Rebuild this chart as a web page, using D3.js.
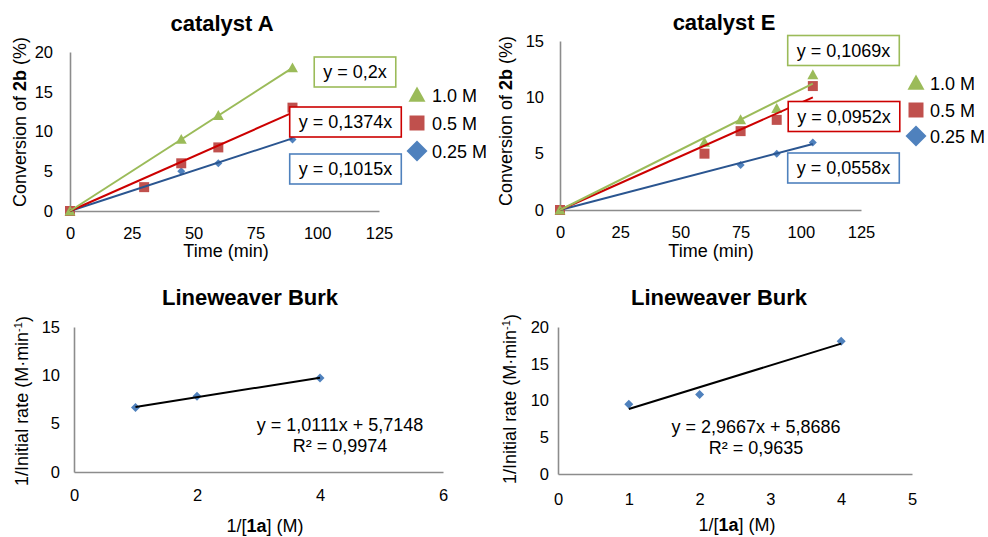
<!DOCTYPE html>
<html>
<head>
<meta charset="utf-8">
<script src="https://cdn.jsdelivr.net/npm/d3@7"></script>
<style>
  html, body { margin: 0; padding: 0; background: #ffffff; }
  svg { display: block; font-family: "Liberation Sans", Arial, Helvetica, sans-serif; }
</style>
</head>
<body>
<svg id="chart" width="988" height="537"></svg>
<script>
// ---- Series labels (legend order) ----
const concLabels = ["1.0 M", "0.5 M", "0.25 M"];

// ---- Catalyst A: time (min) vs conversion of 2b (%) ----
const timeA_10  = [0, 45, 60, 90];
const convA_10  = [0, 9, 12, 18];
const timeA_05  = [0, 30, 45, 60, 90];
const convA_05  = [0, 3, 6, 8, 13];
const timeA_025 = [0, 30, 45, 60, 90];
const convA_025 = [0, 3, 5, 6, 9];
const slopesA   = [0.2, 0.1374, 0.1015];

// ---- Catalyst E ----
const timeE_10  = [0, 60, 75, 90, 105];
const convE_10  = [0, 6, 8, 9, 12];
const timeE_05  = [0, 60, 75, 90, 105];
const convE_05  = [0, 5, 7, 8, 11];
const timeE_025 = [0, 75, 90, 105];
const convE_025 = [0, 4, 5, 6];
const slopesE   = [0.1069, 0.0952, 0.0558];

// ---- Lineweaver-Burk: 1/[1a] (M) vs 1/initial rate ----
const invConcA = [1, 2, 4];
const invRateA = [6.67, 7.83, 9.73];
const fitA     = [1.0111, 5.7148];   // slope, intercept
const r2A      = 0.9974;
const invConcE = [1, 2, 4];
const invRateE = [9.5, 10.8, 18.07];
const fitE     = [2.9667, 5.8686];
const r2E      = 0.9635;

// ---- Tick values ----
const timeTicks      = [0, 25, 50, 75, 100, 125];
const convTicksA     = [0, 5, 10, 15, 20];
const convTicksE     = [0, 5, 10, 15];
const invConcTicksA  = [0, 2, 4, 6];
const invConcTicksE  = [0, 1, 2, 3, 4, 5];
const invRateTicksA  = [0, 5, 10, 15];
const invRateTicksE  = [0, 5, 10, 15, 20];

// ---- Styling ----
const markerColors = ["#9bbb59", "#c0504d", "#4f81bd"];
const lineColors   = ["#9bbb59", "#cc0000", "#2a5590"];
const boxColors    = ["#9bbb59", "#cc0000", "#4f81bd"];
const markerShapes = ["triangle", "square", "diamond"];
const axisColor = "#8c8c8c";
const tickFont = 16.5;
const labelFont = 18;

const svg = d3.select("#chart");
const fmt = v => String(v).replace(".", ",");
const intFmt = d3.format("d");

function markerPath(shape, s) {
  const h = s / 2;
  if (shape === "triangle") return `M0,${-h}L${h},${h * 0.8}L${-h},${h * 0.8}Z`;
  if (shape === "square") return `M${-h},${-h}H${h}V${h}H${-h}Z`;
  return `M0,${-h}L${h},0L0,${h}L${-h},0Z`;
}

function drawAxes(cfg, x, y) {
  const gx = svg.append("g")
    .attr("transform", `translate(0,${cfg.y0})`)
    .call(d3.axisBottom(x).tickValues(cfg.xTicks).tickFormat(intFmt)
      .tickSize(0).tickSizeOuter(0).tickPadding(cfg.xPad));
  const gy = svg.append("g")
    .attr("transform", `translate(${cfg.x0},0)`)
    .call(d3.axisLeft(y).tickValues(cfg.yTicks).tickFormat(intFmt)
      .tickSize(0).tickSizeOuter(0).tickPadding(cfg.yPad));
  [gx, gy].forEach(g => {
    g.attr("font-family", null).attr("font-size", null);
    g.select(".domain").attr("stroke", axisColor).attr("stroke-width", 1.6);
    g.selectAll("text").attr("font-size", tickFont).attr("fill", "#000");
  });
}

function drawTitle(text, cx, baseline) {
  svg.append("text").attr("x", cx).attr("y", baseline)
    .attr("text-anchor", "middle").attr("font-size", 22).attr("font-weight", "bold")
    .text(text);
}

// Kinetic runs: conversion vs time with zero-intercept trend lines
function kineticsPanel(cfg) {
  const x = d3.scaleLinear().domain([0, 125]).range([cfg.x0, cfg.x1]);
  const y = d3.scaleLinear().domain([0, cfg.yMax]).range([cfg.y0, cfg.y1]);
  drawAxes(cfg, x, y);

  const order = [2, 1, 0];
  const markerSizes = [11, 10, 8];
  order.forEach(i => {
    const s = cfg.series[i];
    svg.append("g").selectAll("path")
      .data(d3.zip(s.t, s.c))
      .join("path")
      .attr("transform", d => `translate(${x(d[0])},${y(d[1])})`)
      .attr("d", markerPath(markerShapes[i], markerSizes[i]))
      .attr("fill", markerColors[i]);
  });
  order.forEach(i => {
    const s = cfg.series[i];
    const tMax = d3.max(s.t);
    svg.append("line")
      .attr("x1", x(0)).attr("y1", y(0))
      .attr("x2", x(tMax)).attr("y2", y(cfg.slopes[i] * tMax))
      .attr("stroke", lineColors[i]).attr("stroke-width", 2);
  });

  // Equation boxes
  cfg.boxes.forEach((b, i) => {
    const g = svg.append("g");
    const t = g.append("text").attr("x", b[0]).attr("y", b[1])
      .attr("text-anchor", "middle").attr("dominant-baseline", "central")
      .attr("font-size", labelFont).text(`y = ${fmt(cfg.slopes[i])}x`);
    const bb = t.node().getBBox();
    g.insert("rect", "text")
      .attr("x", b[0] - bb.width / 2 - 9).attr("y", b[1] - 15)
      .attr("width", bb.width + 18).attr("height", 30)
      .attr("fill", "#fff").attr("stroke", boxColors[i]).attr("stroke-width", 1.6);
  });

  // Legend
  const legendSizes = [17, 15, 21];
  concLabels.forEach((lab, i) => {
    const ly = cfg.legendY[i];
    svg.append("path")
      .attr("transform", `translate(${cfg.legendX},${ly})`)
      .attr("d", markerPath(markerShapes[i], legendSizes[i]))
      .attr("fill", markerColors[i]);
    svg.append("text").attr("x", cfg.legendTextX).attr("y", ly + 6.5)
      .attr("font-size", labelFont).text(lab);
  });

  drawTitle(cfg.title, cfg.titleX, cfg.titleY);

  svg.append("text").attr("x", cfg.xTitle[0]).attr("y", cfg.xTitle[1])
    .attr("text-anchor", "middle").attr("font-size", labelFont).text("Time (min)");

  const yt = svg.append("text")
    .attr("transform", `translate(${cfg.yTitle[0]},${cfg.yTitle[1]}) rotate(-90)`)
    .attr("text-anchor", "middle").attr("dy", "0.35em").attr("font-size", labelFont);
  yt.append("tspan").text("Conversion of ");
  yt.append("tspan").attr("font-weight", "bold").text("2b");
  yt.append("tspan").text(" (%)");
}

// Double-reciprocal plot with linear fit
function lbPanel(cfg) {
  const x = d3.scaleLinear().domain([0, cfg.xMax]).range([cfg.x0, cfg.x1]);
  const y = d3.scaleLinear().domain([0, cfg.yMax]).range([cfg.y0, cfg.y1]);
  drawAxes(cfg, x, y);

  svg.append("g").selectAll("path")
    .data(d3.zip(cfg.xs, cfg.ys))
    .join("path")
    .attr("transform", d => `translate(${x(d[0])},${y(d[1])})`)
    .attr("d", markerPath("diamond", 9))
    .attr("fill", "#4f81bd");

  const xMin = d3.min(cfg.xs), xMaxD = d3.max(cfg.xs);
  svg.append("line")
    .attr("x1", x(xMin)).attr("y1", y(cfg.fit[0] * xMin + cfg.fit[1]))
    .attr("x2", x(xMaxD)).attr("y2", y(cfg.fit[0] * xMaxD + cfg.fit[1]))
    .attr("stroke", "#000").attr("stroke-width", 2);

  svg.append("text").attr("x", cfg.eq[0]).attr("y", cfg.eq[1])
    .attr("text-anchor", "middle").attr("font-size", labelFont)
    .text(`y = ${fmt(cfg.fit[0])}x + ${fmt(cfg.fit[1])}`);
  svg.append("text").attr("x", cfg.eq[0]).attr("y", cfg.eq[1] + 20.5)
    .attr("text-anchor", "middle").attr("font-size", labelFont)
    .text(`R² = ${fmt(cfg.r2)}`);

  drawTitle("Lineweaver Burk", cfg.titleX, cfg.titleY);

  const xt = svg.append("text").attr("x", cfg.xTitle[0]).attr("y", cfg.xTitle[1])
    .attr("text-anchor", "middle").attr("font-size", labelFont);
  xt.append("tspan").text("1/[");
  xt.append("tspan").attr("font-weight", "bold").text("1a");
  xt.append("tspan").text("] (M)");

  const yt = svg.append("text")
    .attr("transform", `translate(${cfg.yTitle[0]},${cfg.yTitle[1]}) rotate(-90)`)
    .attr("text-anchor", "middle").attr("dy", "0.35em").attr("font-size", labelFont);
  yt.append("tspan").text("1/Initial rate (M·min");
  yt.append("tspan").attr("font-size", 11).attr("dy", "-0.6em").text("-1");
  yt.append("tspan").attr("dy", "0.4em").text(")");
}

kineticsPanel({
  title: "catalyst A", titleX: 222, titleY: 31,
  x0: 70, x1: 379, y0: 211, y1: 52, yMax: 20,
  xTicks: timeTicks, yTicks: convTicksA, xPad: 16, yPad: 17,
  series: [
    { t: timeA_10, c: convA_10 },
    { t: timeA_05, c: convA_05 },
    { t: timeA_025, c: convA_025 }
  ],
  slopes: slopesA,
  boxes: [[355, 72], [345.5, 122], [345.5, 169]],
  legendX: 417, legendY: [95, 123, 151], legendTextX: 432,
  xTitle: [226, 257], yTitle: [20, 122]
});

kineticsPanel({
  title: "catalyst E", titleX: 724, titleY: 30,
  x0: 560, x1: 861, y0: 210, y1: 41, yMax: 15,
  xTicks: timeTicks, yTicks: convTicksE, xPad: 16, yPad: 16,
  series: [
    { t: timeE_10, c: convE_10 },
    { t: timeE_05, c: convE_05 },
    { t: timeE_025, c: convE_025 }
  ],
  slopes: slopesE,
  boxes: [[843.5, 50.5], [844, 116.5], [843.5, 168]],
  legendX: 916, legendY: [83, 110, 136], legendTextX: 930,
  xTitle: [711, 257], yTitle: [506, 121]
});

lbPanel({
  titleX: 250, titleY: 305,
  x0: 74, x1: 443, y0: 472, y1: 327, xMax: 6, yMax: 15,
  xTicks: invConcTicksA, yTicks: invRateTicksA, xPad: 17, yPad: 14,
  xs: invConcA, ys: invRateA, fit: fitA, r2: r2A,
  eq: [340, 431],
  xTitle: [265, 532], yTitle: [22, 401]
});

lbPanel({
  titleX: 719, titleY: 305,
  x0: 558, x1: 912, y0: 474, y1: 327, xMax: 5, yMax: 20,
  xTicks: invConcTicksE, yTicks: invRateTicksE, xPad: 19, yPad: 9,
  xs: invConcE, ys: invRateE, fit: fitE, r2: r2E,
  eq: [756, 433],
  xTitle: [737, 531], yTitle: [510, 399]
});
</script>
</body>
</html>
